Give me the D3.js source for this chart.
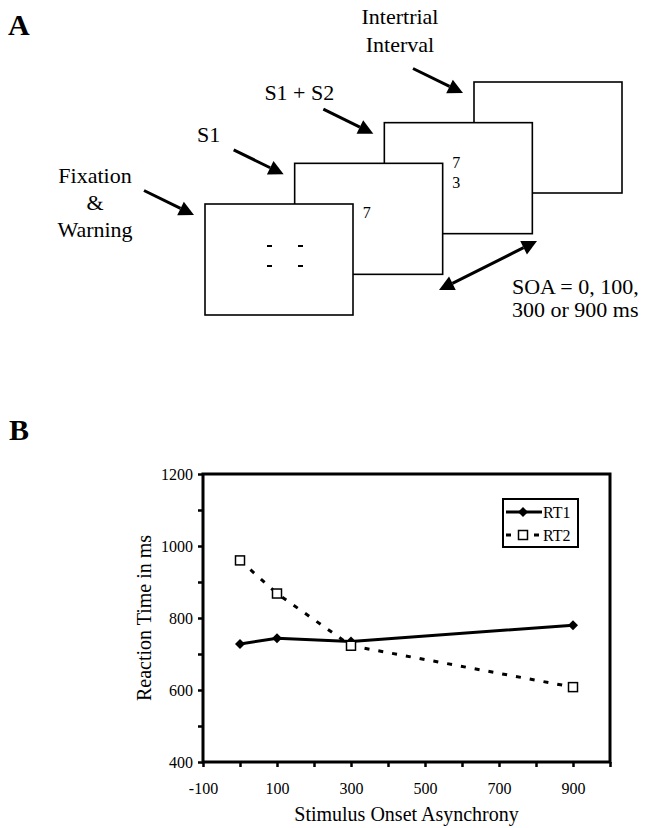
<!DOCTYPE html>
<html>
<head>
<meta charset="utf-8">
<script src="https://cdn.jsdelivr.net/npm/d3@7"></script>
<style>
  body { margin: 0; background: #fff; }
  svg { display: block; font-family: "Liberation Serif", "Times New Roman", serif; }
</style>
</head>
<body>
<svg id="fig" width="653" height="828"></svg>
<script>
// Panel A: trial sequence
var frameNames = [["Fixation", "&", "Warning"], ["S1"], ["S1 + S2"], ["Intertrial", "Interval"]];
var frameDigits = [[], ["7"], ["7", "3"], []];
var soaText = ["SOA = 0, 100,", "300 or 900 ms"];

// Panel B: reaction times
var soa = [0, 100, 300, 900];
var rt1 = [728, 744, 735, 780];
var rt2 = [960, 868, 723, 608];
var seriesNames = ["RT1", "RT2"];
var yTicks = d3.range(400, 1201, 100);
var yLabels = [400, 600, 800, 1000, 1200];
var xTicks = d3.range(-100, 1001, 100);
var xLabels = [-100, 100, 300, 500, 700, 900];

var svg = d3.select("#fig");

// panel letters
svg.append("text").attr("x", 8).attr("y", 35).text("A")
   .style("font-size", "30px").style("font-weight", "bold");
svg.append("text").attr("x", 9).attr("y", 440).text("B")
   .style("font-size", "30px").style("font-weight", "bold");

// ---------- Panel A ----------
var fx = d3.scaleLinear().domain([0, 3]).range([205, 474]);
var fy = d3.scaleLinear().domain([0, 3]).range([204, 82]);
var fw = 148, fh = 111;

function arrow(g, x1, y1, x2, y2, both) {
  var dx = x2 - x1, dy = y2 - y1, len = Math.sqrt(dx * dx + dy * dy);
  var ux = dx / len, uy = dy / len, hl = 15, hw = 7.5;
  var sx = both ? x1 + ux * hl : x1, sy = both ? y1 + uy * hl : y1;
  g.append("line").attr("x1", sx).attr("y1", sy)
    .attr("x2", x2 - ux * hl).attr("y2", y2 - uy * hl)
    .attr("stroke", "#000").attr("stroke-width", 3);
  function head(tx, ty, vx, vy) {
    var bx = tx - vx * hl, by = ty - vy * hl;
    g.append("polygon")
      .attr("points", [[tx, ty], [bx - vy * hw, by + vx * hw], [bx + vy * hw, by - vx * hw]].join(" "))
      .attr("fill", "#000");
  }
  head(x2, y2, ux, uy);
  if (both) head(x1, y1, -ux, -uy);
}

var gA = svg.append("g");
// back frames first so the earlier ones lie on top
d3.range(3, -1, -1).forEach(function(i) {
  gA.append("rect").attr("x", fx(i)).attr("y", fy(i))
    .attr("width", fw).attr("height", fh)
    .attr("fill", "#fff").attr("stroke", "#000").attr("stroke-width", 1.6);
});

// fixation marks
[[62, 42], [93, 42], [62, 62], [93, 62]].forEach(function(p) {
  gA.append("line").attr("x1", fx(0) + p[0]).attr("x2", fx(0) + p[0] + 5)
    .attr("y1", fy(0) + p[1]).attr("y2", fy(0) + p[1])
    .attr("stroke", "#000").attr("stroke-width", 2);
});

// digits
frameDigits.forEach(function(ds, i) {
  ds.forEach(function(d, j) {
    gA.append("text").attr("x", fx(i) + 72).attr("y", fy(i) + 50 + (j - (ds.length - 1) / 2) * 20 + 5)
      .attr("text-anchor", "middle").style("font-size", "16px").text(d);
  });
});

// arrows and labels
var labelPos = [[-49, -8, 27], [-25, -8, 27], [-24, -9, 27], [-13, -45, 28]];
frameNames.forEach(function(lines, i) {
  var tx = fx(i) - 11, ty = fy(i) + 11;
  var sx = tx - 50, sy = ty - 24.5;
  arrow(gA, sx, sy, tx, ty, false);
  var lp = labelPos[i];
  lines.forEach(function(t, j) {
    gA.append("text").attr("x", sx + lp[0]).attr("y", sy + lp[1] + j * lp[2])
      .attr("text-anchor", "middle").style("font-size", "22px").text(t);
  });
});

// SOA double arrow
arrow(gA, 439, 290, 537, 241, true);
soaText.forEach(function(t, j) {
  gA.append("text").attr("x", 512).attr("y", 294 + j * 23)
    .style("font-size", "22px").text(t);
});

// ---------- Panel B ----------
var pLeft = 203, pRight = 610, pTop = 474, pBottom = 762;
var x = d3.scaleLinear().domain([-100, 1000]).range([pLeft, pRight]);
var y = d3.scaleLinear().domain([400, 1200]).range([pBottom, pTop]);

var gB = svg.append("g");

var yAxis = gB.append("g").attr("transform", "translate(" + pLeft + ",0)")
  .call(d3.axisLeft(y).tickValues(yTicks).tickSize(5).tickPadding(5)
    .tickFormat(function(d) { return yLabels.indexOf(d) >= 0 ? d : ""; }));
var xAxis = gB.append("g").attr("transform", "translate(0," + pBottom + ")")
  .call(d3.axisBottom(x).tickValues(xTicks).tickSize(5).tickPadding(16)
    .tickFormat(function(d) { return xLabels.indexOf(d) >= 0 ? d : ""; }));
[yAxis, xAxis].forEach(function(a) {
  a.select(".domain").remove();
  a.selectAll(".tick line").attr("stroke", "#000").attr("stroke-width", 2.5);
  a.selectAll(".tick text").attr("fill", "#000")
    .style("font-family", "Liberation Serif, serif").style("font-size", "16px");
});

gB.append("rect").attr("x", pLeft).attr("y", pTop)
  .attr("width", pRight - pLeft).attr("height", pBottom - pTop)
  .attr("fill", "none").attr("stroke", "#000").attr("stroke-width", 3);

var line = d3.line().x(function(d) { return x(d[0]); }).y(function(d) { return y(d[1]); });
var pts1 = d3.zip(soa, rt1), pts2 = d3.zip(soa, rt2);

gB.append("path").attr("d", line(pts2)).attr("fill", "none")
  .attr("stroke", "#000").attr("stroke-width", 3).attr("stroke-dasharray", "5,9");
gB.append("path").attr("d", line(pts1)).attr("fill", "none")
  .attr("stroke", "#000").attr("stroke-width", 3);

// squat diamond: a square turned 45 degrees
var diamond = d3.symbol().type(d3.symbolSquare).size(50);
gB.selectAll(".m1").data(pts1).enter().append("path").attr("class", "m1")
  .attr("d", diamond).attr("transform", function(d) { return "translate(" + x(d[0]) + "," + y(d[1]) + ") rotate(45)"; })
  .attr("fill", "#000");
gB.selectAll(".m2").data(pts2).enter().append("rect").attr("class", "m2")
  .attr("x", function(d) { return x(d[0]) - 4.5; }).attr("y", function(d) { return y(d[1]) - 4.5; })
  .attr("width", 9).attr("height", 9)
  .attr("fill", "#fff").attr("stroke", "#000").attr("stroke-width", 1.5);

// legend
var lg = gB.append("g").attr("transform", "translate(503,499)");
lg.append("rect").attr("width", 75).attr("height", 48)
  .attr("fill", "#fff").attr("stroke", "#000").attr("stroke-width", 2);
seriesNames.forEach(function(name, i) {
  var ly = 13 + i * 23;
  lg.append("line").attr("x1", 3).attr("x2", 39).attr("y1", ly).attr("y2", ly)
    .attr("stroke", "#000").attr("stroke-width", 3)
    .attr("stroke-dasharray", i ? "5,9" : null);
  if (i === 0) {
    lg.append("path").attr("d", diamond).attr("transform", "translate(20," + ly + ") rotate(45)").attr("fill", "#000");
  } else {
    lg.append("rect").attr("x", 15.5).attr("y", ly - 4.5).attr("width", 9).attr("height", 9)
      .attr("fill", "#fff").attr("stroke", "#000").attr("stroke-width", 1.5);
  }
  lg.append("text").attr("x", 40).attr("y", ly + 6).style("font-size", "16px").text(name);
});

// axis titles
gB.append("text").attr("x", (pLeft + pRight) / 2).attr("y", 821)
  .attr("text-anchor", "middle").style("font-size", "20px").text("Stimulus Onset Asynchrony");
gB.append("text").attr("transform", "translate(151," + (pTop + pBottom) / 2 + ") rotate(-90)")
  .attr("text-anchor", "middle").style("font-size", "20px").text("Reaction Time in ms");
</script>
</body>
</html>
